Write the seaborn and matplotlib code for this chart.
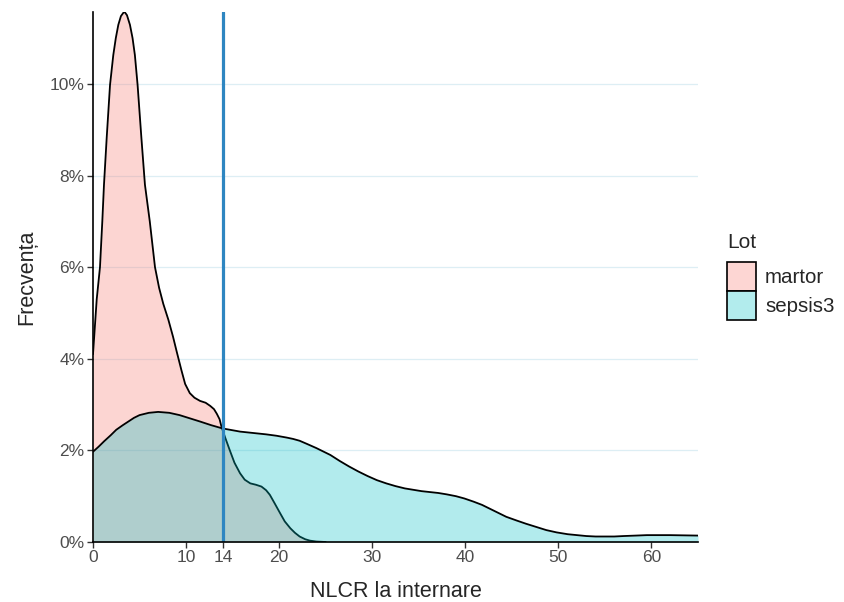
import numpy as np
import pandas as pd
import matplotlib
matplotlib.use("Agg")
import matplotlib.pyplot as plt
import seaborn as sns
from matplotlib.patches import Patch
from matplotlib.ticker import PercentFormatter

# density curves (x = NLCR, y = density in %)
martor_x = [0, 0.2, 0.4, 0.75, 1.0, 1.18, 1.47, 1.83, 2.18, 2.45, 2.72, 3.0, 3.36,
            3.65, 3.97, 4.25, 4.5, 4.79, 5.2, 5.58, 6.1, 6.66, 7.1, 7.55, 8.1,
            8.6, 9.0, 9.5, 9.9, 10.4, 10.9, 11.5, 12.1, 12.6, 13.0, 13.3, 13.6,
            13.8, 14.2, 14.7, 15.2, 15.8, 16.3, 16.9, 17.5, 18.1, 18.6, 19.0,
            19.5, 20.1, 20.6, 21.2, 21.7, 22.2, 22.8, 23.3, 24.0, 25.0]
martor_y = [4.1, 4.7, 5.3, 6.0, 7.0, 7.8, 8.82, 9.98, 10.63, 11.0, 11.29, 11.48, 11.58,
            11.5, 11.29, 11.0, 10.63, 9.98, 8.82, 7.8, 7.0, 6.0, 5.55, 5.2, 4.85,
            4.48, 4.15, 3.75, 3.45, 3.25, 3.15, 3.08, 3.04, 2.97, 2.9, 2.8, 2.68,
            2.52, 2.28, 2.0, 1.73, 1.5, 1.36, 1.28, 1.25, 1.21, 1.13, 1.03,
            0.85, 0.63, 0.45, 0.3, 0.2, 0.12, 0.06, 0.03, 0.01, 0.0]

sepsis_x = [0, 0.6, 1.2, 1.9, 2.5, 3.2, 3.8, 4.4, 5.0, 6.0, 7.0, 8.2, 9.3, 10.4,
            11.5, 12.7, 13.9, 15.8, 17.2, 18.6, 19.7, 20.8, 21.5, 22.2, 23.0,
            24.0, 25.5, 26.5, 27.5, 28.5, 29.5, 30.5, 31.5, 32.5, 33.5, 34.4,
            35.3, 36.2, 37.1, 38.0, 39.0, 39.9, 40.9, 41.8, 42.6, 43.5, 44.4,
            45.5, 46.5, 47.6, 48.7, 49.8, 51.0, 52.0, 53.0, 54.0, 55.0, 56.0,
            57.0, 58.3, 59.5, 60.7, 62.0, 63.5, 65.0]
sepsis_y = [1.97, 2.08, 2.2, 2.33, 2.45, 2.55, 2.63, 2.71, 2.77, 2.82, 2.84, 2.82,
            2.77, 2.7, 2.63, 2.55, 2.48, 2.41, 2.38, 2.35, 2.32, 2.28, 2.25, 2.21,
            2.14, 2.05, 1.9, 1.77, 1.65, 1.54, 1.44, 1.35, 1.28, 1.22, 1.17, 1.14,
            1.11, 1.09, 1.07, 1.04, 1.0, 0.95, 0.88, 0.81, 0.73, 0.64, 0.55,
            0.47, 0.40, 0.33, 0.26, 0.21, 0.17, 0.15, 0.13, 0.12, 0.12, 0.12,
            0.13, 0.14, 0.15, 0.15, 0.15, 0.145, 0.14]

groups = ["martor", "sepsis3"]
fill_colors = {"martor": "#F8766D", "sepsis3": "#00BFC4"}
key_colors = ["#FDD6D3", "#B2ECED"]
cutoff = 14
x_ticks = [0, 10, 14, 20, 30, 40, 50, 60]
y_ticks = [0, 0.02, 0.04, 0.06, 0.08, 0.10]

df = pd.concat([
    pd.DataFrame({"NLCR": martor_x, "dens": np.array(martor_y) / 100, "Lot": "martor"}),
    pd.DataFrame({"NLCR": sepsis_x, "dens": np.array(sepsis_y) / 100, "Lot": "sepsis3"}),
])

sns.set_style("white")
plt.rcParams["font.family"] = ["Liberation Sans", "DejaVu Sans"]

fig = plt.figure(figsize=(8.44, 6.02), dpi=100)
ax = fig.add_axes([93 / 844, 60 / 602, 605 / 844, 530 / 602])

for i, lot in enumerate(groups):
    sub = df[df["Lot"] == lot]
    ax.fill_between(sub["NLCR"], 0, sub["dens"], color=fill_colors[lot],
                    alpha=0.3, linewidth=0, zorder=2 + 2 * i)
    sns.lineplot(data=sub, x="NLCR", y="dens", color="black", lw=1.3,
                 sort=False, ax=ax, zorder=3 + 2 * i)

ax.axvline(cutoff, color="#2E86C1", lw=2.3, zorder=10)

ax.set_xlim(0, 65)
ax.set_ylim(0, 0.1157)
ax.set_xticks(x_ticks)
ax.set_yticks(y_ticks)
ax.yaxis.set_major_formatter(PercentFormatter(xmax=1, decimals=0))
ax.grid(axis="y", color="#DDEEF4", lw=0.9, zorder=0)
ax.set_axisbelow(True)

for s in ["top", "right"]:
    ax.spines[s].set_visible(False)
for s in ["left", "bottom"]:
    ax.spines[s].set_color("black")
    ax.spines[s].set_linewidth(1.2)
    ax.spines[s].set_zorder(12)

ax.tick_params(axis="both", labelsize=12.5, labelcolor="#4D4D4D", color="#333333",
               length=4, width=1.0, direction="out", pad=2,
               bottom=True, left=True)
ax.set_xlabel("NLCR la internare", fontsize=15.5, labelpad=11)
ax.set_ylabel("Frecvența", fontsize=15.5, labelpad=9)

# legend keys, title placed separately to get the wider gap above the keys
handles = [Patch(facecolor=c, edgecolor="black", lw=1.2) for c in key_colors]
leg = fig.legend(handles, groups, loc="upper left",
                 bbox_to_anchor=(727 / 844, 1 - 262 / 602), frameon=False, fontsize=14.8,
                 handlelength=1.4, handleheight=1.8,
                 labelspacing=0.0, handletextpad=0.45, borderpad=0.0,
                 borderaxespad=0.0)
fig.text(727 / 844, 1 - 242 / 602, "Lot", fontsize=15, va="center", ha="left")

fig.savefig("out.png", dpi=100)
